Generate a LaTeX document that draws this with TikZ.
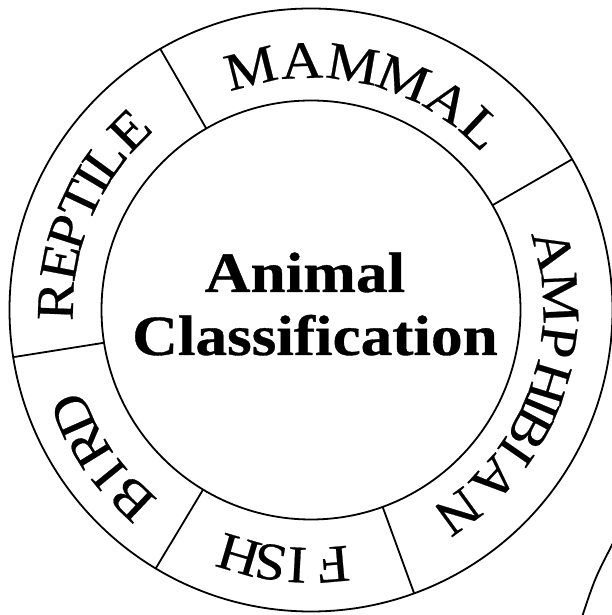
\documentclass[tikz,border=0pt]{standalone}
\usepackage{fontspec}
\setmainfont{Liberation Serif}
\newfontfamily\ringfont[FakeBold=0.4]{Liberation Serif}
\newfontfamily\ttlfont[FakeBold=0.6]{Liberation Serif Bold}
\usepackage{graphicx}
\begin{document}
\begin{tikzpicture}[x=1pt,y=1pt,
  ring/.style={line width=1.8pt},
  lett/.style={font=\ringfont\fontsize{53}{53}\selectfont, inner sep=0pt, anchor=base},
  ttl/.style={font=\ttlfont\fontsize{57}{57}\selectfont, inner sep=0pt, anchor=base}]
\useasboundingbox (0,0) rectangle (612,615);
\coordinate (c) at (311,305);
\node[circle, draw, ring, minimum size=603pt, inner sep=0pt, outer sep=0pt] (outer) at (c) {};
\node[circle, draw, ring, minimum size=419pt, inner sep=0pt, outer sep=0pt] (inner) at (c) {};
% dividers
\foreach \a [count=\i] in {120.2, 30.2, -70.2, -121, 189.8}
  \draw[ring] (inner.\a) -- (outer.\a);
% MAMMAL
\foreach \l/\a [count=\i] in {M/104.0, A/92.1, M/80.3, M/68.2, A/56.6, L/46.8}
  \node[lett, rotate=\a-90] (mam\i) at ([shift={(\a:232)}]c) {\scalebox{1.1}[1]{\l}};
% REPTILE
\foreach \l/\a [count=\i] in {R/178.0, E/169.2, P/162.2, T/154.6, I/149.2, L/143.8, E/135.3}
  \node[lett, rotate=\a-90] (rep\i) at ([shift={(\a:238)}]c) {\scalebox{1.1}[1]{\l}};
% AMPHIBIAN
\foreach \l/\a [count=\i] in {A/13.9, M/2.8, P/-7.3, H/-17.0, I/-22.9, B/-28.4, I/-34.7, A/-42.7, N/-53.9}
  \node[lett, rotate=\a-90] (amp\i) at ([shift={(\a:232)}]c) {\scalebox{1.1}[1]{\l}};
% FISH
\foreach \l/\a [count=\i] in {F/-85.0, I/-93.1, S/-99.2, H/-106.4}
  \node[lett, rotate=\a-90] (fis\i) at ([shift={(\a:238)}]c) {\scalebox{1.1}[1]{\l}};
% BIRD
\foreach \l/\a [count=\i] in {B/226.5, I/219.2, R/211.6, D/203.9}
  \node[lett, rotate=\a-90] (bir\i) at ([shift={(\a:243)}]c) {\scalebox{1.1}[1]{\l}};
% title
\node[ttl] (t1) at (305,323) {\scalebox{1.11}[1]{Animal}};
\node[ttl] (t2) at (315,260) {\scalebox{1.11}[1]{Classification}};
% partial arc at bottom right
\draw[ring] (582,-2) .. controls (595,37) .. (613,72);
\end{tikzpicture}
\end{document}
